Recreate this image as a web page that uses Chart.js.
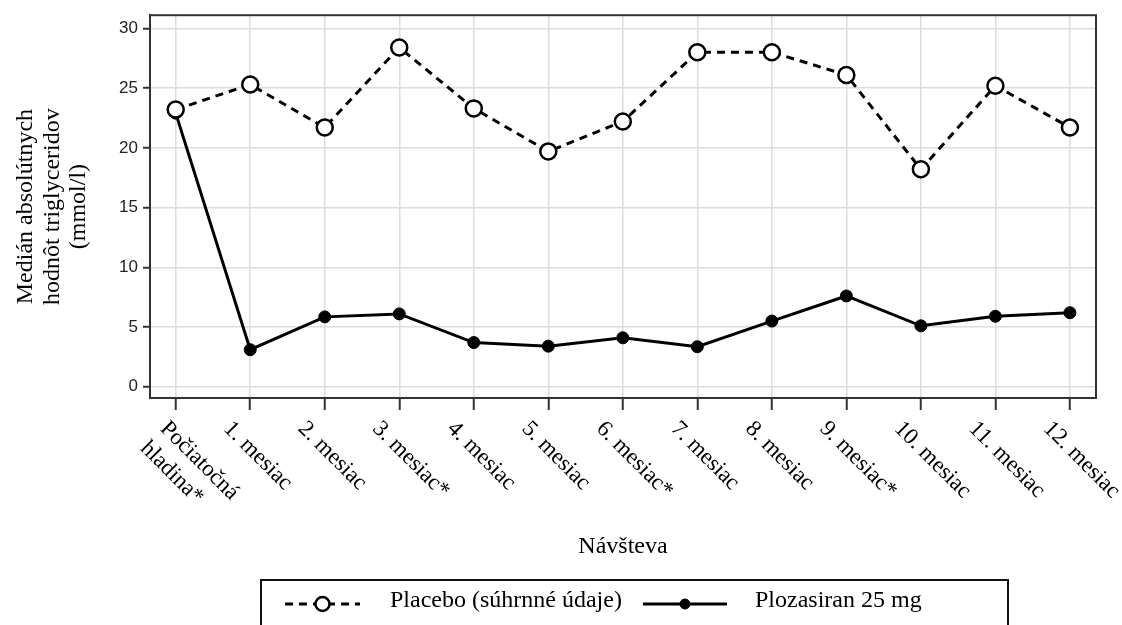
<!DOCTYPE html>
<html>
<head>
<meta charset="utf-8">
<script src="https://cdn.jsdelivr.net/npm/chart.js@4.4.0/dist/chart.umd.min.js"></script>
<style>
  html, body { margin: 0; padding: 0; background: #fff; }
</style>
</head>
<body>
<canvas id="chart" width="1122" height="625"></canvas>
<script>
// visits on the x axis (\n = line break in the rotated label)
const VISITS = ['Počiatočná\nhladina*', '1. mesiac', '2. mesiac', '3. mesiac*', '4. mesiac', '5. mesiac',
    '6. mesiac*', '7. mesiac', '8. mesiac', '9. mesiac*', '10. mesiac', '11. mesiac', '12. mesiac'];
const PLACEBO = [23.2, 25.3, 21.7, 28.4, 23.3, 19.7, 22.2, 28.0, 28.0, 26.1, 18.2, 25.2, 21.7];
const PLOZASIRAN = [22.9, 3.1, 5.85, 6.1, 3.7, 3.4, 4.1, 3.35, 5.5, 7.6, 5.1, 5.9, 6.2];
const Y_TICKS = [0, 5, 10, 15, 20, 25, 30];
const SERIES_LABELS = ['Placebo (súhrnné údaje)', 'Plozasiran 25 mg'];
const X_TITLE = 'Návšteva';
const Y_TITLE = ['Medián absolútnych', 'hodnôt triglyceridov', '(mmol/l)'];

const SERIF = '"Liberation Serif", "Times New Roman", serif';
const SANS = '"Liberation Sans", Arial, sans-serif';

function toPoints(values) {
    return values.map((v, i) => ({ x: i, y: v }));
}

// rotated category labels, going down-right from each tick
function drawXLabels(chart) {
    const ctx = chart.ctx;
    const xs = chart.scales.x;
    const top = chart.chartArea.bottom + 19;
    const lh = 28;
    ctx.save();
    ctx.font = '23px ' + SERIF;
    ctx.fillStyle = '#000';
    ctx.textBaseline = 'top';
    ctx.textAlign = 'left';
    VISITS.forEach((lab, i) => {
        const lines = lab.split('\n');
        const px = xs.getPixelForValue(i);
        lines.forEach((ln, k) => {
            const ax = px - 15 + (lines.length - 1) * 11 - k * lh * 0.707;
            const ay = top + k * lh * 0.707;
            ctx.save();
            ctx.translate(ax, ay);
            ctx.rotate(Math.PI / 4);
            ctx.fillText(ln, 0, 0);
            ctx.restore();
        });
    });
    ctx.restore();
}

function drawLegend(chart) {
    const ctx = chart.ctx;
    const sy = 604;
    // sample start, sample end, text x for each series
    const slots = [[285, 360, 390], [643, 727, 755]];
    ctx.save();
    ctx.strokeStyle = '#111';
    ctx.lineWidth = 2;
    ctx.strokeRect(261, 580, 747, 70);
    chart.data.datasets.forEach((ds, i) => {
        const s = slots[i];
        ctx.beginPath();
        ctx.setLineDash(ds.borderDash || []);
        ctx.lineWidth = ds.borderWidth;
        ctx.strokeStyle = ds.borderColor;
        ctx.moveTo(s[0], sy);
        ctx.lineTo(s[1], sy);
        ctx.stroke();
        ctx.setLineDash([]);
        const cx = (s[0] + s[1]) / 2;
        ctx.beginPath();
        ctx.arc(cx, sy, ds.pointRadius - 1, 0, Math.PI * 2);
        ctx.fillStyle = ds.pointBackgroundColor;
        ctx.fill();
        ctx.lineWidth = ds.pointBorderWidth;
        ctx.strokeStyle = ds.pointBorderColor;
        ctx.stroke();
        ctx.fillStyle = '#000';
        ctx.font = '24px ' + SERIF;
        ctx.textBaseline = 'alphabetic';
        ctx.fillText(ds.label, s[2], 607);
    });
    ctx.restore();
}

const decorPlugin = {
    id: 'decor',
    beforeDatasetsDraw(chart) {
        // box round the plot area
        const a = chart.chartArea;
        const ctx = chart.ctx;
        ctx.save();
        ctx.strokeStyle = '#333';
        ctx.lineWidth = 2;
        ctx.strokeRect(a.left, a.top, a.right - a.left, a.bottom - a.top);
        ctx.restore();
    },
    afterDraw(chart) {
        drawXLabels(chart);
        drawLegend(chart);
    }
};

new Chart(document.getElementById('chart'), {
    type: 'line',
    data: {
        datasets: [
            {
                label: SERIES_LABELS[0],
                data: toPoints(PLACEBO),
                borderColor: '#000',
                borderWidth: 3,
                borderDash: [8, 6],
                pointRadius: 8,
                pointBorderWidth: 2.5,
                pointBackgroundColor: '#fff',
                pointBorderColor: '#000',
                tension: 0
            },
            {
                label: SERIES_LABELS[1],
                data: toPoints(PLOZASIRAN),
                borderColor: '#000',
                borderWidth: 3,
                pointRadius: 6,
                pointBorderWidth: 1,
                pointBackgroundColor: '#000',
                pointBorderColor: '#000',
                tension: 0
            }
        ]
    },
    options: {
        responsive: false,
        animation: false,
        layout: { padding: { top: 14, right: 26, left: 0, bottom: 0 } },
        plugins: { legend: { display: false }, tooltip: { enabled: false } },
        scales: {
            x: {
                type: 'linear',
                min: -0.345,
                max: 12.35,
                afterBuildTicks: s => { s.ticks = VISITS.map((v, i) => ({ value: i })); },
                afterFit: s => { s.height = 227; },
                ticks: { display: false },
                grid: { color: '#dcdcdc', lineWidth: 1.5, tickLength: 12, tickColor: '#333', tickWidth: 2 },
                border: { color: '#333', width: 2 },
                title: {
                    display: true, text: X_TITLE, color: '#000',
                    font: { family: SERIF, size: 24, lineHeight: 1.1 },
                    padding: { top: 0, bottom: 65 }
                }
            },
            y: {
                min: -0.94,
                max: 31.1,
                afterBuildTicks: s => { s.ticks = Y_TICKS.map(v => ({ value: v })); },
                afterFit: s => { s.width = 150; },
                ticks: { font: { family: SANS, size: 17 }, color: '#222', padding: 5 },
                grid: { color: '#dcdcdc', lineWidth: 1.5, tickLength: 7, tickColor: '#333', tickWidth: 2 },
                border: { color: '#333', width: 2 },
                title: {
                    display: true, text: Y_TITLE, color: '#000',
                    font: { family: SERIF, size: 24, lineHeight: 1.1 },
                    padding: { top: 13, bottom: 0 }
                }
            }
        }
    },
    plugins: [decorPlugin]
});
</script>
</body>
</html>
